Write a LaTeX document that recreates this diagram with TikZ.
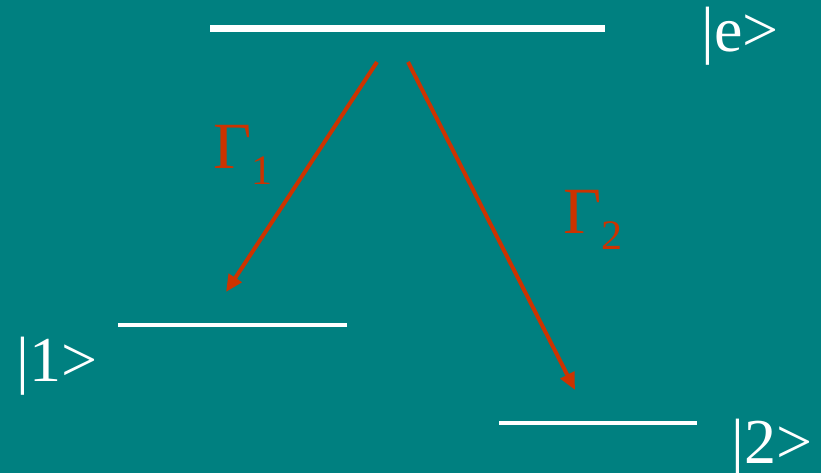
\documentclass[tikz,border=0pt]{standalone}
\usepackage{fontspec}
\setmainfont{Liberation Serif}
\usepackage{xcolor}
\usepackage{tikz}
\usetikzlibrary{arrows.meta,positioning,calc}

\definecolor{teal}{HTML}{008080}
\definecolor{decayred}{HTML}{CC3300}

\begin{document}
\begin{tikzpicture}[
    x=1pt,y=-1pt,
    >={Triangle[length=17pt,width=15pt]},
    level/.style={draw=white,line width=4pt},
    toplevel/.style={draw=white,line width=7pt},
    decay/.style={->,line width=4pt,draw=decayred},
    ket/.style={anchor=base west,inner sep=0pt,text=white,
      font=\fontsize{64}{72}\selectfont},
    rate/.style={anchor=base west,inner sep=0pt,text=decayred,
      font=\fontsize{66}{72}\selectfont}
  ]
    \fill[teal] (0,0) rectangle (821,473);
    \useasboundingbox (0,0) rectangle (821,473);
    % energy levels
    \coordinate (eleft) at (210,29);
    \coordinate (eright) at (605,29);
    \coordinate (oneleft) at (118,325);
    \coordinate (oneright) at (347,325);
    \coordinate (twoleft) at (499,423);
    \coordinate (tworight) at (697,423);
    \draw[toplevel] (eleft) -- (eright);
    \draw[level] (oneleft) -- (oneright);
    \draw[level] (twoleft) -- (tworight);
    \node[ket] (ketE) at (701,52) {|e>};
    \node[ket] (ketOne) at (16,381) {|1>};
    \node[ket] (ketTwo) at (731,463) {|2>};
    % decay channels
    \coordinate (startone) at (377,62);
    \coordinate (endone) at (226,292);
    \coordinate (starttwo) at (408,62);
    \coordinate (endtwo) at (575,390);
    \draw[decay] (startone) -- (endone);
    \draw[decay] (starttwo) -- (endtwo);
    \node[rate] (gammaone) at (213,168) {Γ\raisebox{-16pt}{\fontsize{42}{42}\selectfont 1}};
    \node[rate] (gammatwo) at (563,233) {Γ\raisebox{-17pt}{\fontsize{42}{42}\selectfont 2}};
\end{tikzpicture}
\end{document}
